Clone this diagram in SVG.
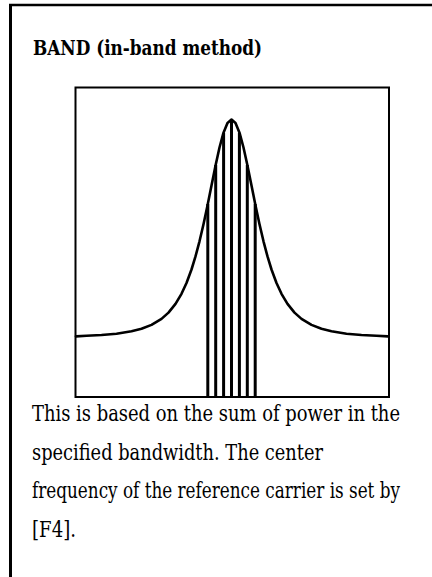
<svg xmlns="http://www.w3.org/2000/svg" width="432" height="577" viewBox="0 0 432 577">
<style>
.title{font-family:"DejaVu Serif Condensed","DejaVu Serif",serif;font-stretch:condensed;font-weight:bold;font-size:20.5px;fill:#000}
.body{font-family:"DejaVu Serif Condensed","DejaVu Serif",serif;font-stretch:condensed;font-size:22px;fill:#000}
.bar{stroke:#000;stroke-width:3;fill:none}
.curve{stroke:#000;stroke-width:2.6;fill:none;stroke-linejoin:round;stroke-linecap:round}
</style>
<rect width="432" height="577" fill="#fff"/>
<g id="frame" fill="none" stroke="#000">
<line x1="9" y1="5" x2="432" y2="5" stroke-width="2.5"/>
<line x1="10.5" y1="4" x2="10.5" y2="577" stroke-width="3"/>
</g>
<text class="title" x="33" y="55" textLength="229" lengthAdjust="spacingAndGlyphs">BAND (in-band method)</text>
<g id="plot">
<rect x="75.5" y="87.5" width="313.5" height="309.5" fill="none" stroke="#000" stroke-width="2"/>
<g id="bars" class="bar">
<line x1="207.8" y1="204" x2="207.8" y2="397"/>
<line x1="215.7" y1="165" x2="215.7" y2="397"/>
<line x1="223.6" y1="133" x2="223.6" y2="397"/>
<line x1="231.5" y1="121" x2="231.5" y2="397"/>
<line x1="239.4" y1="133" x2="239.4" y2="397"/>
<line x1="247.3" y1="165" x2="247.3" y2="397"/>
<line x1="255.2" y1="204" x2="255.2" y2="397"/>
</g>
<polyline class="curve" points="76,336.4 86.5,335.8 101.5,335 116.5,333.7 131.5,331.3 141.5,328.8 151.5,324.9 161.5,318.9 168.5,312.6 175.5,303.9 181.5,293.8 186.5,283 191.5,269.5 195.5,256.4 199.5,241.3 203.5,224.2 207.5,205.4 211.5,185.5 215.5,165.7 219.5,147.5 223.5,132.7 227.5,122.9 231.5,119.5 235.5,122.9 239.5,132.7 243.5,147.5 247.5,165.7 251.5,185.5 255.5,205.4 259.5,224.2 263.5,241.3 267.5,256.4 271.5,269.5 276.5,283 281.5,293.8 287.5,303.9 294.5,312.6 301.5,318.9 311.5,324.9 321.5,328.8 331.5,331.3 346.5,333.7 361.5,335 376.5,335.8 388,336.4"/>
</g>
<g id="description">
<text class="body" x="32" y="421" textLength="368" lengthAdjust="spacingAndGlyphs">This is based on the sum of power in the</text>
<text class="body" x="32" y="459.5" textLength="291" lengthAdjust="spacingAndGlyphs">specified bandwidth. The center</text>
<text class="body" x="32" y="498" textLength="368" lengthAdjust="spacingAndGlyphs">frequency of the reference carrier is set by</text>
<text class="body" x="32" y="536.5" textLength="44" lengthAdjust="spacingAndGlyphs">[F4].</text>
</g>
</svg>
